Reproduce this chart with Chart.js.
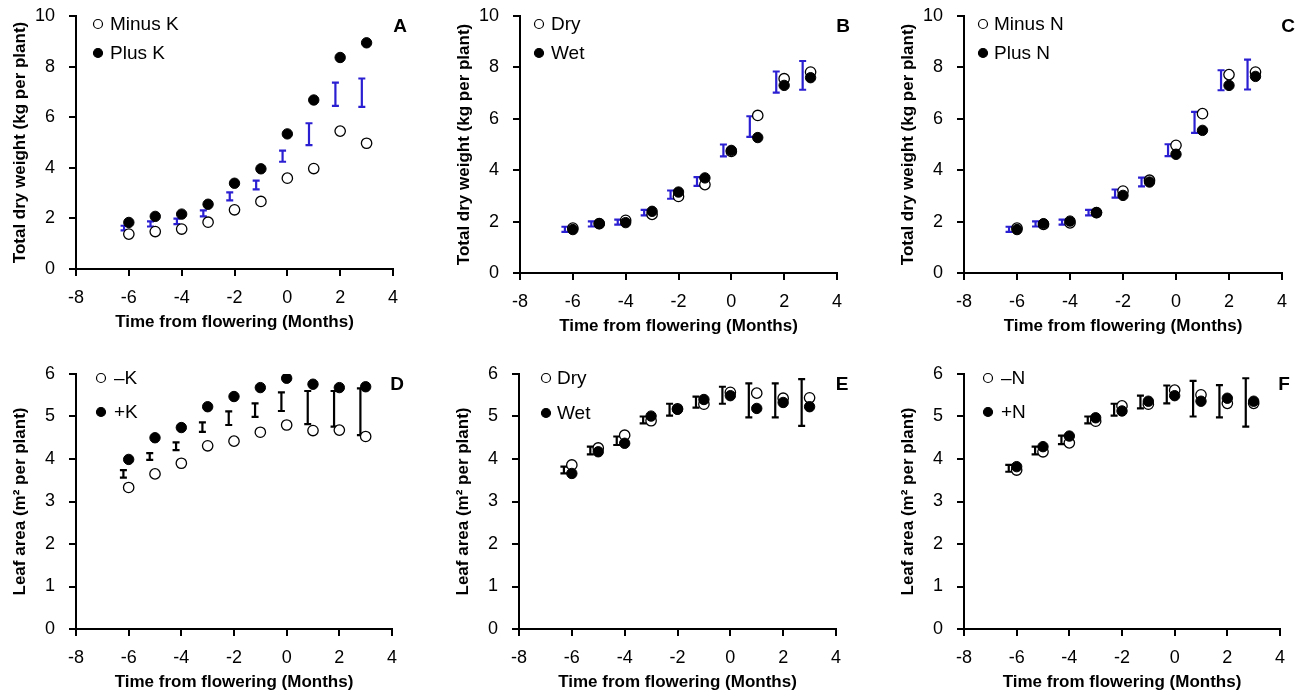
<!DOCTYPE html>
<html><head><meta charset="utf-8">
<script src="https://cdn.jsdelivr.net/npm/chart.js@4.4.1/dist/chart.umd.min.js"></script>
<style>
html,body{margin:0;padding:0;background:#fff;width:1300px;height:696px;overflow:hidden;position:relative}
canvas{position:absolute}
</style></head><body>
<canvas id="cA"></canvas><canvas id="cB"></canvas><canvas id="cC"></canvas>
<canvas id="cD"></canvas><canvas id="cE"></canvas><canvas id="cF"></canvas>
<script>
// ---- data ----
const months = [-6, -5, -4, -3, -2, -1, 0, 1, 2, 3];
const xTickValues = [-8, -6, -4, -2, 0, 2, 4];
const dwTickValues = [0, 2, 4, 6, 8, 10];
const laTickValues = [0, 1, 2, 3, 4, 5, 6];

// A: total dry weight, potassium
const dwMinusK = [1.38, 1.48, 1.58, 1.85, 2.34, 2.67, 3.59, 3.97, 5.45, 4.97];
const dwPlusK  = [1.84, 2.08, 2.17, 2.56, 3.39, 3.96, 5.34, 6.68, 8.36, 8.94];
const lsdA_x   = [-6.18, -5.18, -4.18, -3.18, -2.18, -1.18, -0.18, 0.82, 1.82, 2.82];
const lsdA_mid = [1.62, 1.78, 1.88, 2.20, 2.87, 3.32, 4.46, 5.33, 6.91, 6.97];
const lsdA_half= [0.09, 0.10, 0.11, 0.12, 0.16, 0.17, 0.22, 0.43, 0.46, 0.56];

// B: total dry weight, water
const dwDry = [1.75, 1.92, 2.05, 2.28, 2.98, 3.44, 4.73, 6.13, 7.56, 7.82];
const dwWet = [1.69, 1.92, 1.96, 2.40, 3.15, 3.70, 4.77, 5.27, 7.30, 7.60];
const lsdB_x   = [-6.3, -5.3, -4.3, -3.3, -2.3, -1.3, -0.3, 0.7, 1.7, 2.7];
const lsdB_mid = [1.70, 1.91, 1.98, 2.35, 3.05, 3.56, 4.77, 5.70, 7.43, 7.69];
const lsdB_half= [0.10, 0.10, 0.10, 0.11, 0.16, 0.17, 0.23, 0.40, 0.41, 0.56];

// C: total dry weight, nitrogen
const dwMinusN = [1.75, 1.89, 1.95, 2.35, 3.19, 3.61, 4.97, 6.20, 7.72, 7.82];
const dwPlusN  = [1.69, 1.92, 2.02, 2.35, 3.02, 3.54, 4.62, 5.55, 7.30, 7.65];
const lsdC_x   = [-6.3, -5.3, -4.3, -3.3, -2.3, -1.3, -0.3, 0.7, 1.7, 2.7];
const lsdC_mid = [1.70, 1.91, 1.98, 2.35, 3.09, 3.54, 4.78, 5.86, 7.50, 7.72];
const lsdC_half= [0.10, 0.10, 0.10, 0.11, 0.16, 0.17, 0.23, 0.41, 0.39, 0.58];

// D: leaf area, potassium
const laMinusK = [3.33, 3.65, 3.90, 4.31, 4.42, 4.63, 4.80, 4.67, 4.68, 4.53];
const laPlusK  = [3.99, 4.50, 4.74, 5.23, 5.47, 5.68, 5.90, 5.76, 5.68, 5.70];
const lsdD_x   = [-6.2, -5.2, -4.2, -3.2, -2.2, -1.2, -0.2, 0.8, 1.8, 2.8];
const lsdD_mid = [3.65, 4.06, 4.30, 4.75, 4.96, 5.15, 5.35, 5.21, 5.18, 5.11];
const lsdD_half= [0.09, 0.08, 0.09, 0.11, 0.16, 0.16, 0.22, 0.39, 0.42, 0.55];

// E: leaf area, water
const laDry = [3.86, 4.26, 4.56, 4.90, 5.18, 5.29, 5.57, 5.55, 5.43, 5.44];
const laWet = [3.66, 4.17, 4.37, 5.01, 5.17, 5.40, 5.49, 5.19, 5.33, 5.23];
const lsdE_x   = [-6.3, -5.3, -4.3, -3.3, -2.3, -1.3, -0.3, 0.7, 1.7, 2.7];
const lsdE_mid = [3.74, 4.20, 4.43, 4.92, 5.16, 5.34, 5.50, 5.38, 5.38, 5.33];
const lsdE_half= [0.08, 0.09, 0.10, 0.08, 0.14, 0.13, 0.20, 0.40, 0.40, 0.55];

// F: leaf area, nitrogen
const laMinusN = [3.74, 4.17, 4.38, 4.89, 5.25, 5.29, 5.62, 5.51, 5.31, 5.31];
const laPlusN  = [3.82, 4.29, 4.54, 4.97, 5.13, 5.36, 5.49, 5.36, 5.43, 5.36];
const lsdF_x   = [-6.3, -5.3, -4.3, -3.3, -2.3, -1.3, -0.3, 0.7, 1.7, 2.7];
const lsdF_mid = [3.78, 4.20, 4.45, 4.92, 5.16, 5.34, 5.52, 5.42, 5.36, 5.33];
const lsdF_half= [0.08, 0.09, 0.10, 0.08, 0.14, 0.15, 0.21, 0.42, 0.38, 0.57];

// ---- rendering ----
const FONT = "'Liberation Sans', Arial, Helvetica, sans-serif";
Chart.defaults.font.family = FONT;
Chart.defaults.color = '#000';

const errorBarPlugin = {
  id: 'errorBars',
  beforeDatasetsDraw(chart) {
    const ctx = chart.ctx, xs = chart.scales.x, ys = chart.scales.y;
    chart.data.datasets.forEach(ds => {
      if (!ds.errorBars) return;
      ctx.save();
      ctx.strokeStyle = ds.errorColor;
      ctx.lineWidth = 2.2;
      ds.data.forEach(p => {
        const px = xs.getPixelForValue(p.x);
        const top = ys.getPixelForValue(p.y + p.half);
        const bot = ys.getPixelForValue(p.y - p.half);
        ctx.beginPath();
        ctx.moveTo(px, top); ctx.lineTo(px, bot);
        ctx.moveTo(px - 3.5, top); ctx.lineTo(px + 3.5, top);
        ctx.moveTo(px - 3.5, bot); ctx.lineTo(px + 3.5, bot);
        ctx.stroke();
      });
      ctx.restore();
    });
  }
};

const legendLetterPlugin = {
  id: 'panelDeco',
  afterDraw(chart) {
    const o = chart.options.plugins.panelDeco;
    const ctx = chart.ctx, a = chart.chartArea;
    ctx.save();
    ctx.textBaseline = 'middle';
    ctx.font = '19px ' + FONT;
    let k = 0;
    chart.data.datasets.forEach(ds => {
      if (ds.errorBars) return;
      const mx = a.left + o.lx, my = a.top + o.ly[k];
      ctx.beginPath();
      ctx.arc(mx, my, 4.5, 0, Math.PI * 2);
      ctx.fillStyle = ds.backgroundColor;
      ctx.fill();
      ctx.lineWidth = 1.2; ctx.strokeStyle = '#000';
      ctx.stroke();
      ctx.fillStyle = '#000';
      ctx.textAlign = 'left';
      ctx.fillText(ds.label, mx + o.tx, my + 1);
      k++;
    });
    ctx.font = 'bold 19px ' + FONT;
    ctx.textAlign = 'center';
    ctx.fillText(o.letter, a.right + o.letterDx, a.top + 11);
    ctx.restore();
  }
};

function pts(xs, ys) { return xs.map((x, i) => ({ x: x, y: ys[i] })); }
function bars(xs, mid, half) { return xs.map((x, i) => ({ x: x, y: mid[i], half: half[i] })); }

function makePanel(id, p) {
  const c = document.getElementById(id);
  const padTop = 16, yW = 76, xH = 65, padR = 24;
  const W = yW + p.plotW + padR, H = padTop + p.plotH + xH;
  c.width = W; c.height = H;
  c.style.width = W + 'px'; c.style.height = H + 'px';
  c.style.left = (p.axisLeft - yW) + 'px';
  c.style.top = (p.plotTop - padTop) + 'px';
  new Chart(c, {
    type: 'scatter',
    data: {
      datasets: [
        { label: p.openLabel, data: pts(months, p.open), backgroundColor: '#fff', borderColor: '#000',
          borderWidth: 1.3, pointRadius: 5.2, pointHoverRadius: 5.2, order: 2 },
        { label: p.filledLabel, data: pts(months, p.filled), backgroundColor: '#000', borderColor: '#000',
          borderWidth: 1, pointRadius: 5.2, pointHoverRadius: 5.2, order: 1 },
        { label: 'LSD', data: bars(p.lsdX, p.lsdMid, p.lsdHalf), errorBars: true, errorColor: p.barColor,
          pointRadius: 0, pointHoverRadius: 0, backgroundColor: 'rgba(0,0,0,0)', borderColor: 'rgba(0,0,0,0)', order: 3 }
      ]
    },
    options: {
      responsive: false, animation: false, devicePixelRatio: 1,
      layout: { padding: { top: padTop, right: padR, left: 0, bottom: 0 } },
      plugins: {
        legend: { display: false }, tooltip: { enabled: false },
        panelDeco: { letter: p.letter, letterDx: p.letterDx, lx: p.lx, ly: p.ly, tx: p.tx }
      },
      scales: {
        x: {
          type: 'linear', min: -8, max: 4,
          afterBuildTicks: s => { s.ticks = xTickValues.map(v => ({ value: v })); },
          afterFit: s => { s.height = xH; s.paddingLeft = 0; s.paddingRight = 0; },
          ticks: { font: { size: 18 }, color: '#000', padding: 11, maxRotation: 0 },
          grid: { drawOnChartArea: false, drawTicks: true, tickLength: 7, color: '#000', lineWidth: 2 },
          border: { display: true, color: '#000', width: 2 },
          title: { display: true, text: 'Time from flowering (Months)', font: { size: 17, weight: 'bold' }, color: '#000', padding: { top: 4, bottom: 1 } }
        },
        y: {
          type: 'linear', min: p.yTicks[0], max: p.yTicks[p.yTicks.length - 1],
          afterBuildTicks: s => { s.ticks = p.yTicks.map(v => ({ value: v })); },
          afterFit: s => { s.width = yW; s.paddingTop = 0; s.paddingBottom = 0; },
          ticks: { font: { size: 18 }, color: '#000', padding: 14 },
          grid: { drawOnChartArea: false, drawTicks: true, tickLength: 7, color: '#000', lineWidth: 2 },
          border: { display: true, color: '#000', width: 2 },
          title: { display: true, text: p.yTitle, font: { size: 17, weight: 'bold' }, color: '#000', padding: { top: 10, bottom: 0 } }
        }
      }
    },
    plugins: [errorBarPlugin, legendLetterPlugin]
  });
}

const BLUE = '#2b1fd2';
const DW = 'Total dry weight (kg per plant)';
const LA = 'Leaf area (m\u00B2 per plant)';

makePanel('cA', { axisLeft: 76, plotTop: 16, plotH: 253, plotW: 317, yTicks: dwTickValues, yTitle: DW,
  open: dwMinusK, filled: dwPlusK, openLabel: 'Minus K', filledLabel: 'Plus K',
  lsdX: lsdA_x, lsdMid: lsdA_mid, lsdHalf: lsdA_half, barColor: BLUE,
  letter: 'A', letterDx: 7, lx: 22, ly: [8, 37], tx: 12 });
makePanel('cB', { axisLeft: 520, plotTop: 16, plotH: 257, plotW: 317, yTicks: dwTickValues, yTitle: DW,
  open: dwDry, filled: dwWet, openLabel: 'Dry', filledLabel: 'Wet',
  lsdX: lsdB_x, lsdMid: lsdB_mid, lsdHalf: lsdB_half, barColor: BLUE,
  letter: 'B', letterDx: 6, lx: 19, ly: [8, 37], tx: 12 });
makePanel('cC', { axisLeft: 964, plotTop: 16, plotH: 257, plotW: 318, yTicks: dwTickValues, yTitle: DW,
  open: dwMinusN, filled: dwPlusN, openLabel: 'Minus N', filledLabel: 'Plus N',
  lsdX: lsdC_x, lsdMid: lsdC_mid, lsdHalf: lsdC_half, barColor: BLUE,
  letter: 'C', letterDx: 6, lx: 19, ly: [8, 37], tx: 11 });
makePanel('cD', { axisLeft: 76, plotTop: 374, plotH: 255, plotW: 316, yTicks: laTickValues, yTitle: LA,
  open: laMinusK, filled: laPlusK, openLabel: '\u2013K', filledLabel: '+K',
  lsdX: lsdD_x, lsdMid: lsdD_mid, lsdHalf: lsdD_half, barColor: '#000',
  letter: 'D', letterDx: 5, lx: 25, ly: [4, 38], tx: 13 });
makePanel('cE', { axisLeft: 519, plotTop: 374, plotH: 255, plotW: 317, yTicks: laTickValues, yTitle: LA,
  open: laDry, filled: laWet, openLabel: 'Dry', filledLabel: 'Wet',
  lsdX: lsdE_x, lsdMid: lsdE_mid, lsdHalf: lsdE_half, barColor: '#000',
  letter: 'E', letterDx: 6, lx: 27, ly: [4, 39], tx: 11 });
makePanel('cF', { axisLeft: 964, plotTop: 374, plotH: 255, plotW: 316, yTicks: laTickValues, yTitle: LA,
  open: laMinusN, filled: laPlusN, openLabel: '\u2013N', filledLabel: '+N',
  lsdX: lsdF_x, lsdMid: lsdF_mid, lsdHalf: lsdF_half, barColor: '#000',
  letter: 'F', letterDx: 4, lx: 24, ly: [4, 38], tx: 13 });
</script>
</body></html>
